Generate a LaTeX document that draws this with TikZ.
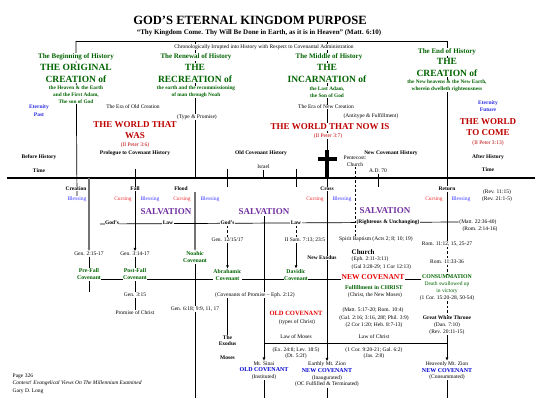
\documentclass[tikz,border=0pt]{standalone}
\usepackage{fontspec}
\setmainfont{Liberation Serif}
\usetikzlibrary{backgrounds,arrows.meta}
\definecolor{dgreen}{RGB}{0,100,0}
\definecolor{dred}{RGB}{190,0,0}
\definecolor{cred}{RGB}{240,50,50}
\definecolor{bblue}{RGB}{60,60,255}
\definecolor{etblue}{RGB}{40,40,230}
\definecolor{purp}{RGB}{112,48,160}
\definecolor{covblue}{RGB}{0,0,210}
\definecolor{brred}{RGB}{230,0,0}
\tikzset{
 base/.style={inner sep=0.5pt, fill=white, align=center},
 sm/.style={base, font=\fontsize{5.5}{6.6}\selectfont},
 smb/.style={base, font=\fontsize{5.5}{6.6}\selectfont\bfseries},
 ghead/.style={base, text=dgreen, font=\fontsize{7}{8}\selectfont\bfseries},
 gbig/.style={base, text=dgreen, font=\fontsize{9.5}{12}\selectfont\bfseries},
 gsm/.style={base, text=dgreen, font=\fontsize{5.3}{6.8}\selectfont\bfseries},
 etern/.style={base, text=etblue, font=\fontsize{5.5}{7.5}\selectfont\bfseries},
 wred/.style={base, text=dred, font=\fontsize{9}{11}\selectfont\bfseries},
 rsm/.style={base, text=dred, font=\fontsize{5.5}{6.6}\selectfont},
 bless/.style={base, text=bblue, font=\fontsize{5.5}{6.6}\selectfont},
 curse/.style={base, text=cred, font=\fontsize{5.5}{6.6}\selectfont},
 salv/.style={base, text=purp, font=\fontsize{9}{10}\selectfont\bfseries},
 gcov/.style={base, text=dgreen, font=\fontsize{5.8}{7}\selectfont\bfseries},
 gsmr/.style={base, text=dgreen, font=\fontsize{5.5}{7}\selectfont},
 redcov/.style={base, text=brred, font=\fontsize{6.5}{8}\selectfont\bfseries},
 ncovred/.style={base, text=brred, font=\fontsize{7.5}{9}\selectfont\bfseries},
 churchst/.style={base, font=\fontsize{7}{8}\selectfont\bfseries},
 ln/.style={line width=0.7pt, draw=black},
 gln/.style={line width=1.1pt, draw=black!55},
 dsh/.style={line width=0.7pt, dash pattern=on 2.5pt off 2pt},
 arr/.style={-{Latex[length=3.5pt,width=3pt]}},
}
\begin{document}
\begin{tikzpicture}[x=1pt,y=-1pt]
\useasboundingbox (0,0) rectangle (541,409);
% header
\node[base, font=\fontsize{12.6}{14}\selectfont\bfseries] (title) at (250,20) {GOD’S ETERNAL KINGDOM PURPOSE};
\node[base, font=\fontsize{7}{8}\selectfont\bfseries] (sub) at (259,33) {“Thy Kingdom Come. Thy Will Be Done in Earth, as it is in Heaven” (Matt. 6:10)};
\coordinate (tl) at (76,41);
\coordinate (t2) at (195,41);
\coordinate (t3) at (327,41);
\coordinate (tr) at (447,41);
\node[sm] (chrono) at (264,47) {Chronologically Irrupted into History with Respect to Covenantal Administration};
% column 1
\node[ghead] (c1a) at (76,57) {The Beginning of History};
\node[gbig] (c1b) at (76,73) {THE ORIGINAL\\CREATION of};
\node[gsm] (c1c) at (76,94.5) {the Heaven \& the Earth\\and the First Adam,\\The son of God};
\node[etern] (etp) at (39,110.5) {Eternity\\Past};
\node[sm] (eraold) at (133,107) {The Era of Old Creation};
\node[wred] (wwas) at (135,130.5) {THE WORLD THAT\\WAS};
\node[rsm] (p36) at (135,145) {(II Peter 3:6)};
\node[smb] (prol) at (135,153) {Prologue to Covenant History};
\node[smb] (bh) at (39,157) {Before History};
\node[smb] (time1) at (39,171) {Time};
% column 2
\node[ghead] (c2a) at (196,57) {The Renewal of History};
\node[gbig] (c2b) at (195,73) {THE\\RECREATION of};
\node[gsm] (c2c) at (196,92) {the earth and the recommissioning\\of man through Noah};
\node[sm] (typ) at (197,117) {(Type \& Promise)};
% column 3
\node[ghead] (c3a) at (329,57) {The Middle of History};
\node[gbig] (c3b) at (327,73) {THE\\INCARNATION of};
\node[gsm] (c3c) at (327,92) {the Last Adam,\\the Son of God};
\node[sm] (eranew) at (326,107) {The Era of New Creation};
\node[sm] (anti) at (371,116) {(Antitype \& Fulfillment)};
\node[wred] (wnow) at (330,127) {THE WORLD THAT NOW IS};
\node[rsm] (p37) at (328,136) {(II Peter 3:7)};
% column 4
\node[ghead] (c4a) at (447,52) {The End of History};
\node[gbig] (c4b) at (447,67.5) {THE\\CREATION of};
\node[gsm] (c4c) at (447,86) {the New heavens \& the New Earth,\\wherein dwelleth righteousness};
\node[etern] (etf) at (488,106) {Eternity\\Future};
\node[wred] (wcome) at (488,127.5) {THE WORLD\\TO COME};
\node[rsm] (p313) at (488,143) {(II Peter 3:13)};
\node[smb] (ah) at (488,157) {After History};
\node[smb] (time2) at (488,170) {Time};
% middle band
\node[smb] (och) at (261,153) {Old Covenant History};
\node[sm] (israel) at (263.5,167) {Israel};
\node[sm, fill=none] (pent) at (355,161) {Pentecost:\\Church};
\node[smb, fill=none] (nch) at (391,153) {New Covenant History};
\node[sm] (ad70) at (378,171) {A.D. 70};
\coordinate (tlL) at (7,178);
\coordinate (tlR) at (535,178);
% events
\node[smb] (creation) at (76,189) {Creation};
\node[smb] (fall) at (135,189) {Fall};
\node[smb] (flood) at (181,189) {Flood};
\node[smb] (crosslbl) at (327,189) {Cross};
\node[smb] (ret) at (447,189) {Return};
\node[bless] (b1) at (77,199) {Blessing};
\node[curse] (k1) at (123,199) {Cursing};
\node[bless] (b2) at (150,199) {Blessing};
\node[curse] (k2) at (182,199) {Cursing};
\node[bless] (b3) at (210,199) {Blessing};
\node[curse] (k3) at (315,199) {Cursing};
\node[bless] (b4) at (342,199) {Blessing};
\node[curse] (k4) at (434,199) {Cursing};
\node[bless] (b5) at (461,199) {Blessing};
\node[sm] (rev1115) at (497,192) {(Rev. 11:15)};
\node[sm] (rev21) at (497,199) {(Rev. 21:1-5)};
\node[salv] (s1) at (166,212) {SALVATION};
\node[salv] (s2) at (264,212) {SALVATION};
\node[salv] (s3) at (385,211) {SALVATION};
\coordinate (lawL) at (100,224);
\node[smb] (god1) at (112,223) {God’s};
\node[smb] (law1) at (168,223) {Law};
\node[smb] (god2) at (227.5,223) {God’s};
\node[smb] (law2) at (296,223) {Law};
\node[smb] (rue) at (388,222) {(Righteous \& Unchanging)};
\node[sm] (m2236) at (478,222) {(Matt. 22:36-40)};
\node[sm] (r214) at (480,229) {(Rom. 2:14-16)};
% lower left
\coordinate (fallt) at (135,169);
\coordinate (cr89) at (89,178);
\node[sm] (g215) at (89,254) {Gen. 2:15-17};
\node[sm] (g314) at (135,254) {Gen. 3:14-17};
\node[gcov] (prefall) at (89,274.5) {Pre-Fall\\Covenant};
\node[gcov] (postfall) at (135,274.5) {Post-Fall\\Covenant};
\node[sm] (g315) at (135,295) {Gen. 3:15};
\node[sm] (promise) at (135,313) {Promise of Christ};
\coordinate (prefallend) at (89,292);
\coordinate (t2b) at (195,178);
\coordinate (floodgap) at (195,192);
\node[gcov] (noahic) at (195,257.5) {Noahic\\Covenant};
\node[sm] (g618) at (195,309) {Gen. 6:18; 9:9, 11, 17};
\coordinate (noahend) at (195,398);
\coordinate (a1) at (227.5,169);
\coordinate (a2) at (227.5,187);
\coordinate (d1) at (296,169);
\coordinate (d2) at (296,187);
\coordinate (isr2) at (263.5,178);
\coordinate (ad2) at (378,187);
\node[sm] (g12) at (227.5,240) {Gen. 12/15/17};
\node[gcov] (abr) at (227.5,275) {Abrahamic\\Covenant};
\node[sm] (covp) at (255,295) {(Covenants of Promise – Eph. 2:12)};
\node[smb] (exodus) at (227.5,340.5) {The\\Exodus};
\node[smb] (moses) at (227.5,358) {Moses};
\node[sm] (isam) at (305,240) {II Sam. 7:13; 23:5};
\node[gcov] (dav) at (296,275) {Davidic\\Covenant};
\node[smb] (nexo) at (322,258) {New Exodus};
\coordinate (cv1) at (101,279);
\coordinate (cv2) at (421,279);
% lower middle
\node[redcov] (oldcov) at (296,313) {OLD COVENANT};
\node[sm] (toc) at (297,322) {(types of Christ)};
\node[sm] (lom) at (296,337) {Law of Moses};
\node[sm] (ex248) at (296,353) {(Ex. 24:8; Lev. 18:5)\\(Dt. 5:2f)};
\node[sm] (loc) at (374,337) {Law of Christ};
\node[sm] (cor9) at (374,353) {(1 Cor. 9:20-21; Gal. 6:2)\\(Jas. 2:8)};
\coordinate (h1) at (264,343);
\coordinate (h3) at (327,343);
\coordinate (h2) at (447,343);
\node[sm] (sinai) at (264,370.7) {Mt. Sinai\\{\fontsize{6}{7.5}\selectfont\bfseries\color{covblue}OLD COVENANT}\\(Instituted)};
\node[sm] (earthly) at (327,374.5) {Earthly Mt. Zion\\{\fontsize{6}{7.5}\selectfont\bfseries\color{covblue}NEW COVENANT}\\(Inaugurated)\\(OC Fulfilled \& Terminated)};
\node[sm] (heav) at (447,370.7) {Heavenly Mt. Zion\\{\fontsize{6}{7.5}\selectfont\bfseries\color{covblue}NEW COVENANT}\\(Consummated)};
\coordinate (sinaiend) at (264,398);
\coordinate (earthend) at (327,398);
\coordinate (heavend) at (447,398);
% right middle
\node[sm] (spirit) at (376,239) {Spirit Baptism (Acts 2; 8; 10; 19)};
\node[churchst, anchor=west] (church) at (351,252) {Church};
\node[sm, anchor=west] (eph) at (351,259) {(Eph. 2:11-3:11)};
\node[sm, anchor=west] (gal3) at (351,267) {(Gal 3:28-29; 1 Cor 12:13)};
\node[ncovred] (ncov) at (373,277) {NEW COVENANT};
\node[gcov] (fic) at (374,287) {Fulfillment in CHRIST};
\node[sm] (cnm) at (375,295) {(Christ, the New Moses)};
\node[sm] (m517) at (373,310) {(Matt. 5:17-20; Rom. 10:4)};
\node[sm] (gal216) at (374,318) {(Gal. 2:16; 3:16, 28f; Phil. 3:9)};
\node[sm] (cor120) at (374,325) {(2 Cor 1:20; Heb. 8:7-13)};
% right column
\node[sm] (r1112) at (447,244) {Rom. 11:12, 15, 25-27};
\node[sm] (r1133) at (447,262) {Rom. 11:33-36};
\node[gcov] (cons) at (447,277) {CONSUMMATION};
\node[gsmr] (death) at (447,287.5) {Death swallowed up\\in victory};
\node[sm] (cor15) at (447,298) {(1 Cor. 15:20-28, 50-54)};
\node[smb] (gwt) at (447,318) {Great White Throne};
\node[sm] (dan) at (447,328.5) {(Dan. 7:10)\\(Rev. 20:11-15)};
% footer
\node[sm, anchor=west] (page) at (12,376) {Page 326};
\node[sm, anchor=west] (ctx) at (12,383) {\itshape Context! Evangelical Views On The Millennium Examined};
\node[sm, anchor=west] (gary) at (12,391) {Gary D. Long};
% connectors
\begin{scope}[on background layer]
\draw[ln] (tl) -- (tr);
\draw[ln] (tl) -- (b1);
\draw[ln] (t2) -- (t2b);
\draw[ln] (t3) -- (h3);
\draw[ln] (tr) -- (ret);
\draw[line width=1.1pt] (tlL) -- (tlR);
\fill (325.3,150) rectangle (328.9,178);
\fill (318,157.3) rectangle (337,160.9);
\draw[ln,arr] (fallt) -- (g314);
\draw[gln,arr] (cr89) -- (g215);
\draw[ln] (g215) -- (prefall);
\draw[ln] (prefall) -- (prefallend);
\draw[ln] (g314) -- (postfall);
\draw[ln] (postfall) -- (g315);
\draw[ln] (g315) -- (promise);
\draw[gln,arr] (floodgap) -- (noahic);
\draw[ln] (noahic) -- (noahend);
\draw[ln] (a1) -- (a2);
\draw[ln] (d1) -- (d2);
\draw[ln] (israel) -- (isr2);
\draw[ln] (ad70) -- (ad2);
\draw[dsh] (pent.south) -- (pent.south |- spirit.north);
\draw[ln] (lawL) -- (m2236.west);
\draw[dsh] (god2) -- (g12);
\draw[ln,arr] (g12) -- (abr);
\draw[dsh] (law2) -- (law2 |- isam.north);
\draw[ln,arr] (law2 |- isam.south) -- (dav);
\draw[ln] (exodus |- covp.south) -- (exodus);
\draw[ln] (cv1) -- (cv2);
\draw[ln] (s2) -- (h1) -- (h2);
\draw[ln,arr] (h1) -- (sinai);
\draw[ln,arr] (h3) -- (earthly);
\draw[ln,arr] (h2) -- (heav);
\draw[ln] (sinai) -- (sinaiend);
\draw[ln] (earthly) -- (earthend);
\draw[ln] (heav) -- (heavend);
\draw[ln] (ret) -- (r1112);
\draw[dsh] (r1112) -- (r1133);
\draw[dsh] (r1133) -- (cons);
\draw[dsh] (cor15) -- (gwt);
\draw[ln] (dan) -- (h2);
\end{scope}
\end{tikzpicture}
\end{document}
